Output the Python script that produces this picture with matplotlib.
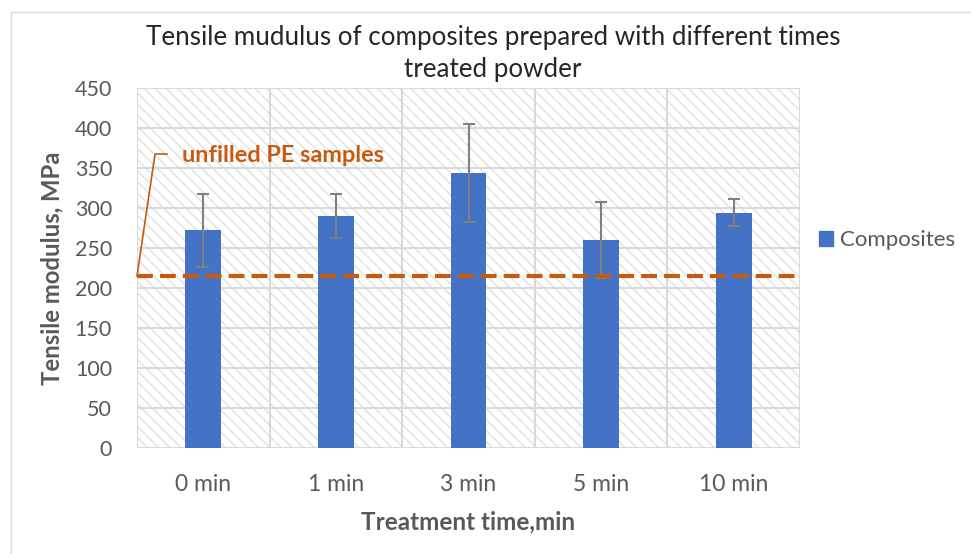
import matplotlib
matplotlib.use("Agg")
import matplotlib.pyplot as plt
from matplotlib.patches import Rectangle
from matplotlib.lines import Line2D

plt.rcParams['font.family'] = ['Lato', 'DejaVu Sans']
plt.rcParams['hatch.linewidth'] = 0.8
plt.rcParams['hatch.color'] = '#dadada'

# data
categories = ['0 min', '1 min', '3 min', '5 min', '10 min']
modulus = [272, 290, 344, 260, 294]
modulus_err = [46, 28, 61, 47, 17]
unfilled_pe = 215

blue = '#4472C4'
orange = '#C55A11'
grey_txt = '#595959'
grid_c = '#d9d9d9'

W, H = 971, 554
fig = plt.figure(figsize=(W / 100, H / 100), dpi=100)
ax = fig.add_axes([137 / W, 1 - 448 / H, (800 - 137) / W, (448 - 88) / H])

x = list(range(len(categories)))

# hatched plot-area background
ax.add_patch(Rectangle((0, 0), 1, 1, transform=ax.transAxes, facecolor='white',
                       edgecolor='#dadada', hatch='\\\\\\', linewidth=0, zorder=0))

ax.bar(x, modulus, width=0.27, color=blue, zorder=3, label='Composites')
ax.errorbar(x, modulus, yerr=modulus_err, fmt='none', ecolor='#808080',
            elinewidth=1.5, capsize=4.5, capthick=1.5, zorder=4)

ax.set_xlim(-0.5, len(categories) - 0.5)
ax.set_ylim(0, 450)
ax.set_yticks(range(0, 451, 50))
ax.set_xticks(x)
ax.set_xticklabels(categories)

# gridlines: horizontal at ticks, vertical between categories
for yv in range(0, 451, 50):
    ax.axhline(yv, color=grid_c, lw=1.5, zorder=1)
for xv in [i - 0.5 for i in range(len(categories) + 1)]:
    ax.axvline(xv, color=grid_c, lw=1.5, zorder=1)

for s in ax.spines.values():
    s.set_visible(False)
ax.tick_params(length=0, labelcolor=grey_txt)
ax.tick_params(axis='x', pad=19, labelsize=16.5)
ax.tick_params(axis='y', pad=18, labelsize=15.5)

# unfilled PE reference line
ax.plot([-0.5, len(categories) - 0.5], [unfilled_pe, unfilled_pe], color=orange,
        lw=3, dashes=(3.8, 1.7), zorder=5, solid_capstyle='butt', dash_capstyle='butt')
label_x, label_y = -0.16, 366
ax.plot([-0.5, -0.364, -0.274], [unfilled_pe, label_y + 1.5, label_y + 1.5],
        color=orange, lw=1.2, zorder=5, clip_on=False)
ax.text(label_x, label_y, 'unfilled PE samples', color=orange, fontsize=16.9,
        fontweight='bold', va='center', ha='left', zorder=6)

ax.set_ylabel('Tensile modulus, MPa', fontsize=17.2, fontweight='bold',
              color=grey_txt, labelpad=8)
ax.set_xlabel('Treatment time,min', fontsize=17.5, fontweight='bold',
              color=grey_txt, labelpad=11)

fig.text(493 / W, 1 - 37 / H, 'Tensile mudulus of composites prepared with different times',
         ha='center', va='center', fontsize=18.7, color='#262626')
fig.text(493 / W, 1 - 70 / H, 'treated powder',
         ha='center', va='center', fontsize=18.7, color='#262626')

fig.legend(handles=[Rectangle((0, 0), 1, 1, color=blue)], labels=['Composites'],
           loc='center left', bbox_to_anchor=(819 / W, 1 - 240 / H), frameon=False,
           borderaxespad=0, borderpad=0,
           fontsize=16, labelcolor=grey_txt, handlelength=0.65, handleheight=0.65,
           handletextpad=0.3)

# chart outer border (left and top edges visible)
fig.add_artist(Line2D([11 / W, 11 / W], [0, 1 - 12 / H], color=grid_c, lw=1))
fig.add_artist(Line2D([11 / W, 1], [1 - 12 / H, 1 - 12 / H], color=grid_c, lw=1))

fig.savefig('out.png', dpi=100)
